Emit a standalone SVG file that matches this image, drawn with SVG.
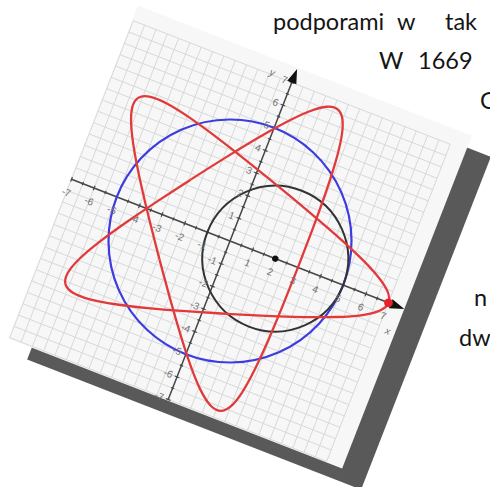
<svg xmlns="http://www.w3.org/2000/svg" width="490" height="487" viewBox="0 0 490 487">
<defs>
<style>
.ns{vector-effect:non-scaling-stroke;fill:none}
.grid{stroke:#d7d9d9;stroke-width:1}
.ax{stroke:#474747;stroke-width:1.5}
.tk{stroke:#474747;stroke-width:1.2}
.lbl{font-family:"Liberation Sans",Arial,sans-serif;font-size:10px;fill:#707070;text-anchor:middle}
.lbe{font-family:"Liberation Sans",Arial,sans-serif;font-size:10px;fill:#707070;text-anchor:end}
.txt{font-family:Lato,"Open Sans",sans-serif;font-size:23.5px;fill:#151515}
</style>
<path id="arc" class="ns" d="M0.927 2.853C1.458 2.681 1.988 2.505 2.5 2.330C3.012 2.156 3.505 1.982 3.964 1.814C4.422 1.645 4.846 1.480 5.221 1.321C5.595 1.162 5.921 1.008 6.186 0.858C6.451 0.709 6.656 0.564 6.793 0.422C6.930 0.279 7 0.140 7 0C7 -0.140 6.930 -0.279 6.793 -0.422C6.656 -0.564 6.451 -0.709 6.186 -0.858C5.921 -1.008 5.595 -1.162 5.221 -1.321C4.846 -1.480 4.422 -1.645 3.964 -1.814C3.505 -1.982 3.012 -2.156 2.5 -2.330C1.988 -2.505 1.458 -2.681 0.927 -2.853"/>
</defs>
<rect width="490" height="487" fill="#ffffff"/>
<g id="text">
<text class="txt" x="273" y="30">podporami</text>
<text class="txt" x="397" y="30">w</text>
<text class="txt" x="445" y="30">tak</text>
<text class="txt" x="379" y="69">W</text>
<text class="txt" x="418" y="69">1669</text>
<text class="txt" x="480" y="109">G</text>
<text class="txt" x="474" y="306">n</text>
<text class="txt" x="459" y="346">dw</text>
</g>
<g id="shadow" transform="translate(249,262) rotate(21.3) scale(24.3,-24.3)">
<rect x="-7.05" y="-7.05" width="14.75" height="14.7" fill="#595959"/>
</g>
<g id="plot" transform="translate(230,241) rotate(21.3) scale(24.3,-24.3)">
<rect x="-7.05" y="-7.05" width="14.75" height="14.7" fill="#f7f7f7"/>
<path class="ns grid" d="M-7-7V7M-6.5-7V7M-6-7V7M-5.5-7V7M-5-7V7M-4.5-7V7M-4-7V7M-3.5-7V7M-3-7V7M-2.5-7V7M-2-7V7M-1.5-7V7M-1-7V7M-.5-7V7M0-7V7M.5-7V7M1-7V7M1.5-7V7M2-7V7M2.5-7V7M3-7V7M3.5-7V7M4-7V7M4.5-7V7M5-7V7M5.5-7V7M6-7V7M6.5-7V7M7-7V7M-7-7H7M-7-6.5H7M-7-6H7M-7-5.5H7M-7-5H7M-7-4.5H7M-7-4H7M-7-3.5H7M-7-3H7M-7-2.5H7M-7-2H7M-7-1.5H7M-7-1H7M-7-.5H7M-7 0H7M-7 .5H7M-7 1H7M-7 1.5H7M-7 2H7M-7 2.5H7M-7 3H7M-7 3.5H7M-7 4H7M-7 4.5H7M-7 5H7M-7 5.5H7M-7 6H7M-7 6.5H7M-7 7H7"/>
<path class="ns ax" d="M-7 0H7.2M0-7V7.1"/>
<path class="ns tk" d="M-7-.1V.1M-6.5-.07V.07M-6-.1V.1M-5.5-.07V.07M-5-.1V.1M-4.5-.07V.07M-4-.1V.1M-3.5-.07V.07M-3-.1V.1M-2.5-.07V.07M-2-.1V.1M-1.5-.07V.07M-1-.1V.1M-.5-.07V.07M.5-.07V.07M1-.1V.1M1.5-.07V.07M2-.1V.1M2.5-.07V.07M3-.1V.1M3.5-.07V.07M4-.1V.1M4.5-.07V.07M5-.1V.1M5.5-.07V.07M6-.1V.1M6.5-.07V.07M7-.1V.1M-.1-7H.1M-.07-6.5H.07M-.1-6H.1M-.07-5.5H.07M-.1-5H.1M-.07-4.5H.07M-.1-4H.1M-.07-3.5H.07M-.1-3H.1M-.07-2.5H.07M-.1-2H.1M-.07-1.5H.07M-.1-1H.1M-.07-.5H.07M-.07 .5H.07M-.1 1H.1M-.07 1.5H.07M-.1 2H.1M-.07 2.5H.07M-.1 3H.1M-.07 3.5H.07M-.1 4H.1M-.07 4.5H.07M-.1 5H.1M-.07 5.5H.07M-.1 6H.1M-.07 6.5H.07M-.1 7H.1"/>
<path d="M7.1 .2L7.7 0L7.1-.2Z M-.2 7L0 7.6L.2 7Z" fill="#111"/>
<circle class="ns" cx="0" cy="0" r="5" stroke="#3c3ce0" stroke-width="2.2"/>
<circle class="ns" cx="2" cy="0" r="3" stroke="#333333" stroke-width="2"/>
<g stroke="#e23a3a" stroke-width="2.3">
<use href="#arc"/>
<use href="#arc" transform="rotate(72)"/>
<use href="#arc" transform="rotate(144)"/>
<use href="#arc" transform="rotate(216)"/>
<use href="#arc" transform="rotate(288)"/>
</g>
<circle cx="2" cy="0" r="0.13" fill="#111"/>
<circle cx="7" cy="0" r="0.18" fill="#e8202a"/>
</g>
<g id="labels" transform="translate(230,241) rotate(21.3)">
<text class="lbl" x="-170.1" y="17.5">-7</text>
<text class="lbl" x="-145.8" y="17.5">-6</text>
<text class="lbl" x="-121.5" y="17.5">-5</text>
<text class="lbl" x="-97.2" y="17.5">-4</text>
<text class="lbl" x="-72.9" y="17.5">-3</text>
<text class="lbl" x="-48.6" y="17.5">-2</text>
<text class="lbl" x="-24.3" y="17.5">-1</text>
<text class="lbl" x="24.3" y="17.5">1</text>
<text class="lbl" x="48.6" y="17.5">2</text>
<text class="lbl" x="72.9" y="17.5">3</text>
<text class="lbl" x="97.2" y="17.5">4</text>
<text class="lbl" x="121.5" y="17.5">5</text>
<text class="lbl" x="145.8" y="17.5">6</text>
<text class="lbl" x="170.1" y="17.5">7</text>
<text class="lbe" x="-5" y="-166.6">7</text>
<text class="lbe" x="-5" y="-142.3">6</text>
<text class="lbe" x="-5" y="-118">5</text>
<text class="lbe" x="-5" y="-93.7">4</text>
<text class="lbe" x="-5" y="-69.4">3</text>
<text class="lbe" x="-5" y="-45.1">2</text>
<text class="lbe" x="-5" y="-20.8">1</text>
<text class="lbe" x="-5" y="27.8">-1</text>
<text class="lbe" x="-5" y="52.1">-2</text>
<text class="lbe" x="-5" y="76.4">-3</text>
<text class="lbe" x="-5" y="100.7">-4</text>
<text class="lbe" x="-5" y="125">-5</text>
<text class="lbe" x="-5" y="149.3">-6</text>
<text class="lbe" x="-5" y="173.6">-7</text>
<text class="lbl" x="179.8" y="30" font-style="italic" font-size="11">x</text>
<text class="lbl" x="-21.9" y="-169" font-style="italic" font-size="11">y</text>
</g>
</svg>
